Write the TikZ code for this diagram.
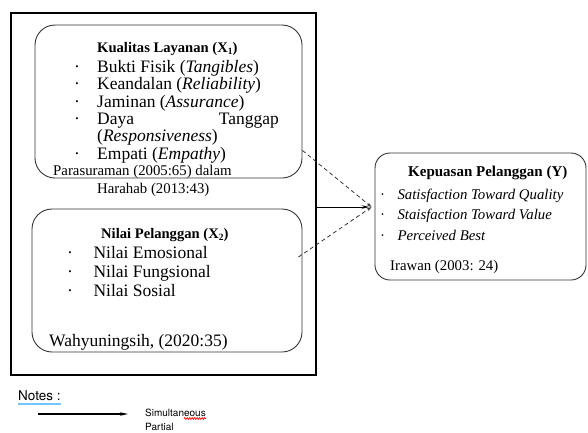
\documentclass[tikz,border=0pt]{standalone}
\usepackage{fontspec}
\setmainfont{Liberation Serif}
\newfontfamily\notefont{TeX Gyre Heros}
\usetikzlibrary{arrows.meta,decorations.pathmorphing}
\newcommand\szL{\fontsize{17.5}{17.5}\selectfont}
\newcommand\szM{\fontsize{14.8}{14.8}\selectfont}
\newcommand\szT{\fontsize{14.6}{14.6}\selectfont\bfseries}
\newcommand\bul{\textperiodcentered}
\newcommand\lowidx[1]{\raisebox{-2.5pt}{\fontsize{9.5}{9.5}\selectfont #1}}
\definecolor{edge}{HTML}{333333}
\begin{document}
\begin{tikzpicture}[x=1pt,y=-1pt,
  txt/.style={anchor=base west, inner sep=0pt, font=\rmfamily},
  note/.style={anchor=base west, inner sep=0pt, font=\notefont},
  rbox/.style={draw=edge, line width=0.9pt, inner sep=0pt},
  dashc/.style={draw=edge, line width=0.8pt, dash pattern=on 4pt off 3pt, -{Stealth[length=5pt,width=3pt]}},
  solidc/.style={draw=black, line width=0.9pt, -{Stealth[length=8pt,width=3.5pt]}}]
\useasboundingbox (0,0) rectangle (588,432);
% X1 text
\node[txt] (x1t) at (97,52) {\szT Kualitas Layanan (X\lowidx{1})};
\node[txt] (x1i1) at (97,72.5) {\szL Bukti Fisik (\textit{Tangibles})};
\node[txt] (x1i2) at (97,89.8) {\szL Keandalan (\textit{Reliability})};
\node[txt] (x1i3) at (97,107.1) {\szL Jaminan (\textit{Assurance})};
\node[txt] (x1i4) at (97,124.4) {\szL Daya};
\node[txt, anchor=base east] (x1i4b) at (279,124.4) {\szL Tanggap};
\node[txt] (x1i4c) at (97,141.7) {\szL (\textit{Responsiveness})};
\node[txt] (x1i5) at (97,159) {\szL Empati (\textit{Empathy})};
\node[txt] (x1r1) at (53,175.7) {\szM Parasuraman (2005:65) dalam};
\node[txt] (x1r2) at (97,193.3) {\szM Harahab (2013:43)};
\node[txt] (x1b1) at (74,72.5) {\szL\bul};
\node[txt] (x1b2) at (74,89.8) {\szL\bul};
\node[txt] (x1b3) at (74,107.1) {\szL\bul};
\node[txt] (x1b4) at (74,124.4) {\szL\bul};
\node[txt] (x1b5) at (74,159) {\szL\bul};
% X2 text
\node[txt] (x2t) at (101,238.3) {\szT Nilai Pelanggan (X\lowidx{2})};
\node[txt] (x2i1) at (93.3,258.3) {\szL Nilai Emosional};
\node[txt] (x2i2) at (93.3,277.7) {\szL Nilai Fungsional};
\node[txt] (x2i3) at (93.3,296.7) {\szL Nilai Sosial};
\node[txt] (x2r) at (49,346.7) {\szL Wahyuningsih, (2020:35)};
\node[txt] (x2b1) at (67,258.3) {\szL\bul};
\node[txt] (x2b2) at (67,277.7) {\szL\bul};
\node[txt] (x2b3) at (67,296.7) {\szL\bul};
% Y text
\node[txt] (yt) at (408,176.7) {\fontsize{15}{15}\selectfont\bfseries Kepuasan Pelanggan (Y)};
\node[txt] (yi1) at (397.3,199) {\szM\itshape Satisfaction Toward Quality};
\node[txt] (yi2) at (397.3,219.3) {\szM\itshape Staisfaction Toward Value};
\node[txt] (yi3) at (397.3,240) {\szM\itshape Perceived Best};
\node[txt] (yr) at (390,270) {\szM Irawan (2003: 24)};
\node[txt] (yb1) at (380,199) {\szM\bul};
\node[txt] (yb2) at (380,219.3) {\szM\bul};
\node[txt] (yb3) at (380,240) {\szM\bul};
% frame and boxes
\node[draw=black, line width=2.6pt, inner sep=0pt, minimum width=305pt, minimum height=362pt] (frame) at (163.5,194) {};
\node[rbox, rounded corners=20pt, minimum width=267pt, minimum height=153pt] (x1) at (168.5,101.5) {};
\node[rbox, rounded corners=20pt, minimum width=270pt, minimum height=143pt] (x2) at (167,280.5) {};
\node[rbox, rounded corners=15pt, minimum width=211pt, minimum height=127pt] (y) at (480.5,216.5) {};
% connectors
\coordinate (tip) at ([xshift=-3pt,yshift=9.5pt]y.west);
\draw[solidc] ([yshift=-13pt]frame.east) -- ([xshift=-2pt]tip);
\draw[dashc] ([yshift=28pt]x1.south east) -- (tip);
\draw[dashc] ([xshift=-4pt,yshift=23.5pt]x2.east) -- (tip);
% notes
\node[note] (notes) at (18,400.5) {\fontsize{13.5}{13.5}\selectfont Notes :};
\draw[color=blue!40!cyan!55, line width=1.2pt] ([yshift=-3.5pt]notes.base west) -- ([yshift=-3.5pt]notes.base east);
\coordinate (n1) at (38,414);
\coordinate (n2) at (128,414);
\draw[draw=black, line width=1.3pt, -{Stealth[length=8pt,width=3.5pt]}] (n1) -- (n2);
\node[note] (sim) at (145,416.7) {\fontsize{10}{10}\selectfont Simultaneous};
\node[note] (par) at (145,430) {\fontsize{10}{10}\selectfont Partial};
\draw[red, line width=0.7pt, decorate, decoration={zigzag, amplitude=0.9pt, segment length=2.5pt}] ([xshift=-22pt,yshift=-1.8pt]sim.base east) -- ([yshift=-1.8pt]sim.base east);
\end{tikzpicture}
\end{document}
